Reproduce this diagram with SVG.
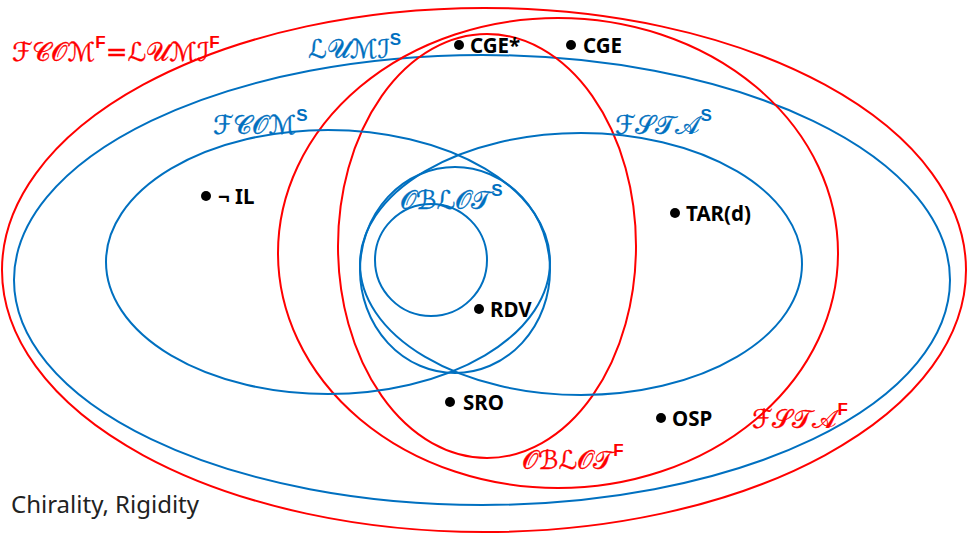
<svg xmlns="http://www.w3.org/2000/svg" width="968" height="534" viewBox="0 0 968 534">
<style>
.r{fill:none;stroke:#FF0000;stroke-width:2}
.b{fill:none;stroke:#0070C0;stroke-width:2}
.cal{font-family:"DejaVu Serif","DejaVu Sans","Liberation Serif",serif;font-size:26px;stroke-width:0.35}
.sup{font-family:"Liberation Sans",sans-serif;font-size:17px;font-weight:bold;stroke-width:0}
.red{fill:#FF0000;stroke:#FF0000}
.blue{fill:#0070C0;stroke:#0070C0}
.pt{font-family:"Noto Sans","Liberation Sans",sans-serif;font-weight:bold;font-size:20.5px;fill:#000}
.note{font-family:"Noto Sans","Liberation Sans",sans-serif;font-size:24px;fill:#222}
</style>
<rect width="968" height="534" fill="#fff"/>
<g id="sets">
<g id="fcomF"><ellipse class="r" cx="484" cy="270" rx="482" ry="262"/>
<text class="cal red" x="12" y="61">ℱ𝒞𝒪ℳ<tspan class="sup" dy="-13">F</tspan><tspan dy="13">=ℒ𝒰ℳℐ</tspan><tspan class="sup" dy="-13">F</tspan></text></g>
<g id="lumiS"><ellipse class="b" cx="482" cy="280" rx="468" ry="225"/>
<text class="cal blue" x="308" y="58">ℒ𝒰ℳℐ<tspan class="sup" dy="-13">S</tspan></text></g>
<g id="fstaF"><ellipse class="r" cx="558" cy="253" rx="280" ry="235"/>
<text class="cal red" x="752" y="428">ℱ𝒮𝒯𝒜<tspan class="sup" dy="-13">F</tspan></text></g>
<g id="oblotF"><ellipse class="r" cx="487" cy="246" rx="149" ry="212"/>
<text class="cal red" x="522" y="469">𝒪ℬℒ𝒪𝒯<tspan class="sup" dy="-13">F</tspan></text></g>
<g id="fcomS"><ellipse class="b" cx="328" cy="262" rx="222" ry="132"/>
<text class="cal blue" x="213" y="134">ℱ𝒞𝒪ℳ<tspan class="sup" dy="-13">S</tspan></text></g>
<g id="fstaS"><ellipse class="b" cx="581" cy="264" rx="221" ry="131"/>
<text class="cal blue" x="615" y="134">ℱ𝒮𝒯𝒜<tspan class="sup" dy="-13">S</tspan></text></g>
<g id="oblotS"><ellipse class="b" cx="455" cy="270" rx="95" ry="103"/>
<text class="cal blue" x="400" y="209">𝒪ℬℒ𝒪𝒯<tspan class="sup" dy="-13">S</tspan></text></g>
<g id="inner"><circle class="b" cx="431" cy="260" r="56"/></g>
</g>
<g id="points">
<g id="p-cgestar"><circle cx="459" cy="45" r="5"/><text class="pt" x="470" y="53">CGE*</text></g>
<g id="p-cge"><circle cx="571" cy="45" r="5"/><text class="pt" x="583" y="53">CGE</text></g>
<g id="p-il"><circle cx="206" cy="196" r="5"/><text class="pt" x="218" y="204">¬ IL</text></g>
<g id="p-tar"><circle cx="675" cy="213" r="5"/><text class="pt" x="686" y="221">TAR(d)</text></g>
<g id="p-rdv"><circle cx="479" cy="309" r="5"/><text class="pt" x="490" y="317">RDV</text></g>
<g id="p-sro"><circle cx="450" cy="402" r="5"/><text class="pt" x="463" y="410">SRO</text></g>
<g id="p-osp"><circle cx="661" cy="418" r="5"/><text class="pt" x="672" y="426">OSP</text></g>
</g>
<g id="connectors"/>
<text class="note" x="11" y="513">Chirality, Rigidity</text>
</svg>
